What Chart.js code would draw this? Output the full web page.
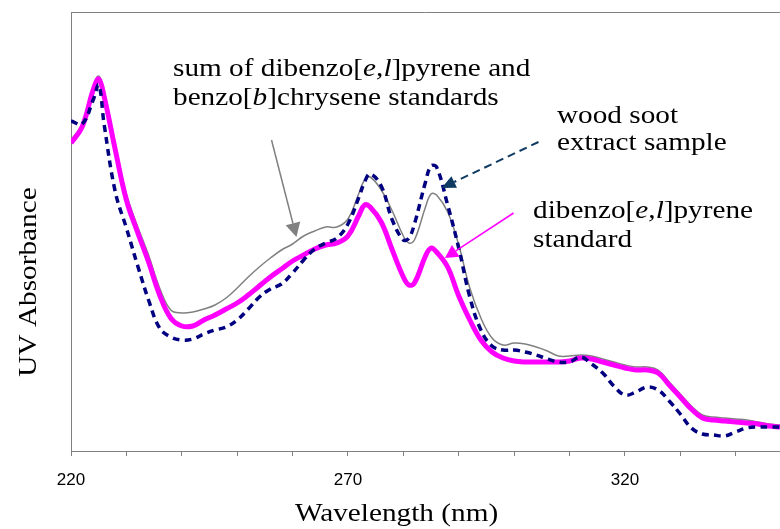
<!DOCTYPE html>
<html>
<head>
<meta charset="utf-8">
<title>UV absorbance spectra</title>
<script src="https://cdn.jsdelivr.net/npm/chart.js@4.4.1/dist/chart.umd.min.js"></script>
<style>
  html, body { margin: 0; padding: 0; background: #fff; }
  #wrap { width: 780px; height: 529px; }
</style>
</head>
<body>
<div id="wrap"><canvas id="spectra" width="780" height="529"></canvas></div>
<script>
// Wavelength grid (nm) shared by the three spectra
const wavelengths = [220, 222, 224, 225, 226, 228, 230, 232, 234, 236, 238, 240, 242, 244, 246, 248,
  250, 252, 254, 256, 258, 260, 262, 264, 266, 268, 270, 272, 273, 274, 276, 278, 280, 281, 282,
  284, 285, 286, 288, 290, 292, 294, 296, 298, 300, 302, 304, 306, 308, 310, 312, 314, 316, 318,
  320, 322, 324, 326, 328, 330, 332, 334, 336, 338, 340, 342, 344, 346, 348];

// Absorbance, relative units
const sumStandards = [311, 327, 365, 375, 360, 306, 257, 225, 196, 163, 141, 138, 139, 142, 146, 153,
  163, 174, 184, 193, 201, 207, 215, 220, 224, 224, 232, 258, 271, 274, 261, 240, 215, 208, 211,
  244, 257, 256, 239, 206, 163, 133, 113, 106, 108, 107, 104, 100, 95, 95, 96, 95, 92, 89,
  86, 84, 84, 81, 69, 57, 45, 36, 34, 33, 32, 31, 29, 27, 26];

const woodSoot = [330, 327, 351, 366, 326, 259, 223, 186, 151, 123, 114, 111, 112, 117, 121, 124,
  131, 142, 154, 162, 167, 178, 191, 202, 208, 213, 227, 254, 269, 277, 265, 231, 211, 213, 227,
  269, 285, 284, 246, 203, 154, 121, 105, 101, 101, 99, 96, 92, 89, 89, 94, 87, 78, 65,
  56, 59, 64, 61, 50, 37, 23, 17, 16, 15, 19, 23, 24, 24, 24];

const dbpStandard = [308, 324, 361, 372, 354, 301, 251, 219, 189, 156, 133, 125, 125, 131, 136, 142,
  148, 156, 165, 174, 182, 190, 196, 202, 206, 208, 215, 236, 246, 244, 229, 201, 174, 166, 168,
  195, 203, 199, 184, 155, 131, 111, 99, 93, 90, 89, 89, 89, 89, 90, 93, 92, 89, 86,
  83, 81, 81, 78, 66, 54, 42, 33, 31, 30, 29, 28, 27, 25, 24];

const xLabels = [220, 270, 320];

const SERIF = '"Liberation Serif", "Times New Roman", serif';
const SERIF_SIZE = 25;
const SERIF_STRETCH = 1.17;

function toPoints(values) {
  return wavelengths.map((w, i) => ({ x: w, y: values[i] }));
}

// Callout labels (px) with arrows whose ends are given in data units
const callouts = [
  {
    lines: [
      [['sum of dibenzo[', false], ['e,l', true], [']pyrene and', false]],
      [['benzo[', false], ['b', true], [']chrysene standards', false]]
    ],
    x: 173, y: 76, lineGap: 29,
    arrow: { from: [256.2, 311], to: [260.7, 214], color: '#808080', width: 1.5, head: 14, headWidth: 15 }
  },
  {
    lines: [
      [['wood soot', false]],
      [['extract sample', false]]
    ],
    x: 557, y: 123, lineGap: 27,
    arrow: { from: [304.4, 309], to: [286.9, 263], color: '#0f3b63', width: 2, dash: [8, 5], head: 14, headWidth: 13 }
  },
  {
    lines: [
      [['dibenzo[', false], ['e,l', true], [']pyrene', false]],
      [['standard', false]]
    ],
    x: 533, y: 218, lineGap: 29,
    arrow: { from: [299.9, 238], to: [287.5, 193], color: '#ff00ff', width: 1.5, head: 13, headWidth: 14 }
  }
];

function drawRich(ctx, parts, x, y) {
  ctx.save();
  ctx.translate(x, y);
  ctx.scale(SERIF_STRETCH, 1);
  ctx.textAlign = 'left';
  ctx.textBaseline = 'alphabetic';
  let cx = 0;
  parts.forEach(([text, italic]) => {
    ctx.font = (italic ? 'italic ' : '') + SERIF_SIZE + 'px ' + SERIF;
    ctx.fillText(text, cx, 0);
    cx += ctx.measureText(text).width;
  });
  ctx.restore();
}

function drawArrow(ctx, x0, y0, x1, y1, a) {
  const ang = Math.atan2(y1 - y0, x1 - x0);
  const bx = x1 - Math.cos(ang) * a.head;
  const by = y1 - Math.sin(ang) * a.head;
  const half = a.headWidth / 2;
  ctx.save();
  ctx.strokeStyle = a.color;
  ctx.lineWidth = a.width;
  ctx.setLineDash(a.dash || []);
  ctx.beginPath();
  ctx.moveTo(x0, y0);
  ctx.lineTo(bx, by);
  ctx.stroke();
  ctx.setLineDash([]);
  ctx.fillStyle = a.color;
  ctx.beginPath();
  ctx.moveTo(x1, y1);
  ctx.lineTo(bx + Math.sin(ang) * half, by - Math.cos(ang) * half);
  ctx.lineTo(bx - Math.sin(ang) * half, by + Math.cos(ang) * half);
  ctx.closePath();
  ctx.fill();
  ctx.restore();
}

// Frame top line, axis titles and callouts
const decorations = {
  id: 'decorations',
  afterDraw(chart) {
    const ctx = chart.ctx;
    const area = chart.chartArea;
    const xs = chart.scales.x;
    const ys = chart.scales.y;

    ctx.save();
    ctx.strokeStyle = '#808080';
    ctx.lineWidth = 1;
    ctx.beginPath();
    ctx.moveTo(area.left, area.top + 0.5);
    ctx.lineTo(area.right, area.top + 0.5);
    ctx.stroke();

    ctx.fillStyle = '#000';
    // y title
    ctx.save();
    ctx.translate(36, 282);
    ctx.rotate(-Math.PI / 2);
    ctx.scale(SERIF_STRETCH, 1);
    ctx.font = SERIF_SIZE + 'px ' + SERIF;
    ctx.textAlign = 'center';
    ctx.fillText('UV Absorbance', 0, 0);
    ctx.restore();

    // x title
    drawRich(ctx, [['Wavelength (nm)', false]], 295, 521);

    callouts.forEach(c => {
      c.lines.forEach((parts, i) => drawRich(ctx, parts, c.x, c.y + i * c.lineGap));
      const a = c.arrow;
      drawArrow(ctx,
        xs.getPixelForValue(a.from[0]), ys.getPixelForValue(a.from[1]),
        xs.getPixelForValue(a.to[0]), ys.getPixelForValue(a.to[1]), a);
    });
    ctx.restore();
  }
};

new Chart(document.getElementById('spectra'), {
  type: 'line',
  data: {
    datasets: [
      {
        label: 'wood soot extract sample',
        data: toPoints(woodSoot),
        borderColor: '#000080',
        borderWidth: 3.5,
        borderDash: [7, 5],
        order: 0
      },
      {
        label: 'dibenzo[e,l]pyrene standard',
        data: toPoints(dbpStandard),
        borderColor: '#ff00ff',
        borderWidth: 5,
        order: 1
      },
      {
        label: 'sum of dibenzo[e,l]pyrene and benzo[b]chrysene standards',
        data: toPoints(sumStandards),
        borderColor: '#808080',
        borderWidth: 1.5,
        order: 2
      }
    ]
  },
  options: {
    responsive: false,
    animation: false,
    layout: { padding: { top: 12, right: 0, bottom: 0, left: 0 } },
    elements: {
      point: { radius: 0 },
      line: { tension: 0.4, fill: false }
    },
    plugins: {
      legend: { display: false },
      tooltip: { enabled: false }
    },
    scales: {
      x: {
        type: 'linear',
        min: 220,
        max: 348,
        ticks: {
          stepSize: 10,
          includeBounds: false,
          autoSkip: false,
          maxRotation: 0,
          padding: 14,
          color: '#000',
          font: { family: '"Liberation Sans", Arial, sans-serif', size: 17 },
          callback: v => (xLabels.includes(v) ? String(v) : '')
        },
        grid: { drawOnChartArea: false, drawTicks: true, tickLength: 5, color: '#808080' },
        border: { display: true, color: '#808080', width: 1 },
        afterFit: s => { s.height = 78; }
      },
      y: {
        min: 0,
        max: 439,
        ticks: { display: false },
        grid: { display: false },
        border: { display: true, color: '#808080', width: 1 },
        afterFit: s => { s.width = 71; }
      }
    }
  },
  plugins: [decorations]
});
</script>
</body>
</html>
